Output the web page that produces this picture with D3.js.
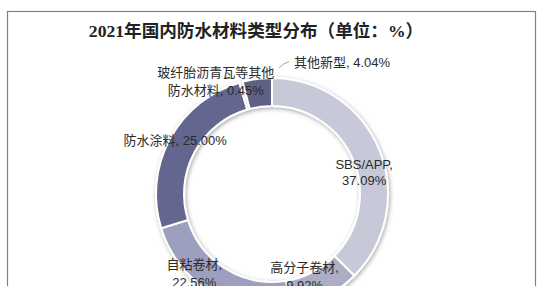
<!DOCTYPE html>
<html>
<head>
<meta charset="utf-8">
<script src="https://cdn.jsdelivr.net/npm/d3@7"></script>
<style>
  body { margin: 0; background: #fff; }
  svg { display: block; }
  .title { font-family: 'Liberation Serif', 'Noto Sans CJK SC', serif; font-weight: bold; font-size: 17.6px; fill: #222; }
  .lbl { font-family: 'Liberation Sans', 'Noto Sans CJK SC', sans-serif; font-size: 13px; fill: #2a2a2a; }
</style>
</head>
<body>
<svg id="chart"></svg>
<script>
// data
const categories = ['SBS/APP', '高分子卷材', '自粘卷材', '防水涂料', '玻纤胎沥青瓦等其他防水材料', '其他新型'];
const values = [37.09, 9.92, 22.56, 25.00, 0.45, 4.04];
const labelLines = [
  ['SBS/APP,', '37.09%'],
  ['高分子卷材,', '9.92%'],
  ['自粘卷材,', '22.56%'],
  ['防水涂料, 25.00%'],
  ['玻纤胎沥青瓦等其他', '防水材料, 0.45%'],
  ['其他新型, 4.04%'],
];
const sliceColors = ['#c7c8d8', '#acaec4', '#9d9fbf', '#63668e', '#d6d7e2', '#5e6086'];

const config = {
  width: 546, height: 305,
  cx: 272, cy: 194, outer: 116, inner: 88,
  clipBottom: 286,
};
// label placement: offset from each slice centroid, text anchor, line gap
const labelLayout = [
  { dx: -2, dy: 18, anchor: 'middle', gap: 16 },
  { dx: -14, dy: -8, anchor: 'middle', gap: 18 },
  { dx: -24, dy: -7, anchor: 'middle', gap: 18 },
  { dx: -7, dy: -5, anchor: 'middle', gap: 18 },
  { dx: -29, dy: -14, anchor: 'middle', gap: 18 },
  { dx: 35, dy: -30, anchor: 'start', gap: 18 },
];

const svg = d3.select('#chart')
  .attr('width', config.width)
  .attr('height', config.height);

const defs = svg.append('defs');
defs.append('clipPath').attr('id', 'crop')
  .append('rect')
  .attr('x', 0).attr('y', 0)
  .attr('width', config.width).attr('height', config.clipBottom);

const shadow = defs.append('filter').attr('id', 'shadow')
  .attr('x', '-20%').attr('y', '-20%').attr('width', '140%').attr('height', '140%');
shadow.append('feDropShadow')
  .attr('dx', 1).attr('dy', 1.5)
  .attr('stdDeviation', 2.2)
  .attr('flood-color', '#000')
  .attr('flood-opacity', 0.35);

const root = svg.append('g').attr('clip-path', 'url(#crop)');

// frame
root.append('rect')
  .attr('x', 7.5).attr('y', 11.5)
  .attr('width', 528).attr('height', 300)
  .attr('fill', 'none')
  .attr('stroke', '#808080')
  .attr('stroke-width', 1.2);

root.append('text')
  .attr('class', 'title')
  .attr('x', 256)
  .attr('y', 37)
  .attr('text-anchor', 'middle')
  .text('2021年国内防水材料类型分布（单位：%）');

const data = categories.map((c, i) => ({ name: c, value: values[i], lines: labelLines[i], idx: i }));

const pie = d3.pie().sort(null).value((d) => d.value);
const arc = d3.arc().innerRadius(config.inner).outerRadius(config.outer);
const centroidArc = d3.arc().innerRadius(102).outerRadius(102);

const arcs = pie(data);

const chart = root.append('g')
  .attr('transform', `translate(${config.cx},${config.cy})`);

chart.append('g')
  .attr('filter', 'url(#shadow)')
  .selectAll('path')
  .data(arcs)
  .join('path')
  .attr('d', arc)
  .attr('fill', (d) => sliceColors[d.data.idx])
  .attr('stroke', '#fff')
  .attr('stroke-width', 2)
  .attr('stroke-linejoin', 'round');

// leader line for the small top slice
const last = arcs[arcs.length - 1];
const lp = centroidArc.centroid(last);
const ll = labelLayout[arcs.length - 1];
chart.append('path')
  .attr('d', `M${lp[0] + ll.dx - 15},${lp[1] + ll.dy + 5} Q${lp[0] + ll.dx - 10},${lp[1] + ll.dy} ${lp[0] + ll.dx - 5},${lp[1] + ll.dy - 1}`)
  .attr('fill', 'none')
  .attr('stroke', '#888')
  .attr('stroke-width', 0.8);

const labels = chart.selectAll('text.lbl')
  .data(arcs)
  .join('text')
  .attr('class', 'lbl')
  .attr('text-anchor', (d) => labelLayout[d.data.idx].anchor)
  .attr('transform', (d) => {
    const c = centroidArc.centroid(d);
    const l = labelLayout[d.data.idx];
    const n = d.data.lines.length;
    const y0 = c[1] + l.dy - (n - 1) * l.gap / 2 + 4.5;
    return `translate(${c[0] + l.dx},${y0})`;
  });

labels.selectAll('tspan')
  .data((d) => d.data.lines.map((t, k) => ({ t, k, gap: labelLayout[d.data.idx].gap })))
  .join('tspan')
  .attr('x', 0)
  .attr('y', (d) => d.k * d.gap)
  .text((d) => d.t);
</script>
</body>
</html>
